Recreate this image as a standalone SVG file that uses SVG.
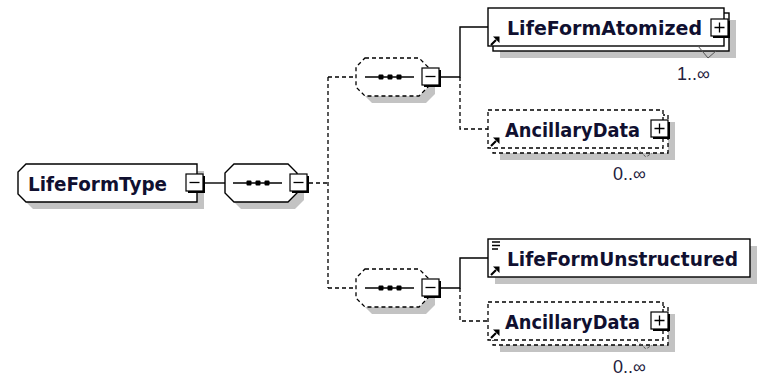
<svg xmlns="http://www.w3.org/2000/svg" width="763" height="378" viewBox="0 0 763 378">
<style>
.bg{fill:#ffffff}
.shadow{fill:#c3c3c3;stroke:none}
.solid{fill:#ffffff;stroke:#000000;stroke-width:1.4}
.dash{fill:#ffffff;stroke:#000000;stroke-width:1.3;stroke-dasharray:4,3}
.con{fill:none;stroke:#000000;stroke-width:1.4}
.cond{fill:none;stroke:#000000;stroke-width:1.3;stroke-dasharray:4,3}
.name{font-family:"DejaVu Sans","Liberation Sans",sans-serif;font-weight:bold;font-size:20px;fill:#101030}
.mult{font-family:"Liberation Sans","DejaVu Sans",sans-serif;font-size:18px;fill:#24203c}
.btn{fill:#ffffff;stroke:#000000;stroke-width:1.2}
.btnsh{fill:#000000}
.sign{stroke:#000000;stroke-width:1.3;fill:none}
.notch{fill:none;stroke:#555555;stroke-width:1}
</style>
<defs>
<g id="minus">
<rect class="btnsh" x="2" y="2" width="17" height="17"/>
<rect class="btn" x="0" y="0" width="17" height="17"/>
<path class="sign" d="M3.5,8.5 H13.5"/>
</g>
<g id="plus">
<rect class="btnsh" x="2" y="2" width="17" height="17"/>
<rect class="btn" x="0" y="0" width="17" height="17"/>
<path class="sign" d="M3.5,8.5 H13.5 M8.5,3.5 V13.5"/>
</g>
<g id="arrow">
<path d="M1,9 L6,4" stroke="#000" stroke-width="2.2" fill="none"/>
<polygon points="3,0.5 9.5,0.5 9.5,7" fill="#000"/>
</g>
<g id="seqdots">
<path d="M0,0 H49" stroke="#000" stroke-width="1.4"/>
<rect x="13.5" y="-2.5" width="5" height="5" rx="1" fill="#000"/>
<rect x="22.5" y="-2.5" width="5" height="5" rx="1" fill="#000"/>
<rect x="31.5" y="-2.5" width="5" height="5" rx="1" fill="#000"/>
</g>
</defs>
<rect class="bg" x="0" y="0" width="763" height="378"/>

<g id="connectors">
<path class="con" d="M205,183 H225"/>
<path class="cond" d="M309,183 H328 M328,77 V288 M328,77 H356 M328,288 H356"/>
<path class="con" d="M441,77 H460 V27 H488"/>
<path class="cond" d="M460,77 V129 H488"/>
<path class="con" d="M441,288 H460 V258 H488"/>
<path class="cond" d="M460,288 V321 H488"/>
</g>

<g id="LifeFormType">
<polygon class="shadow" points="33,171 204,171 204,209 33,209 25,201 25,179"/>
<polygon class="solid" points="26,164 197,164 197,202 26,202 18,194 18,172"/>
<text class="name" x="28" y="190.5" textLength="139" lengthAdjust="spacingAndGlyphs">LifeFormType</text>
<use href="#minus" x="186" y="174"/>
</g>

<g id="sequence-main">
<polygon class="shadow" points="241,171 295,171 304,180 304,200 295,209 241,209 232,200 232,180"/>
<polygon class="solid" points="234,164 288,164 297,173 297,193 288,202 234,202 225,193 225,173"/>
<use href="#seqdots" x="233" y="183"/>
<use href="#minus" x="290" y="174"/>
</g>

<g id="sequence-atomized">
<polygon class="shadow" points="372,65 426,65 435,74 435,94 426,103 372,103 363,94 363,74"/>
<polygon class="dash" points="365,58 419,58 428,67 428,87 419,96 365,96 356,87 356,67"/>
<use href="#seqdots" x="365" y="77"/>
<use href="#minus" x="422" y="68"/>
</g>

<g id="sequence-unstructured">
<polygon class="shadow" points="372,276 426,276 435,285 435,305 426,314 372,314 363,305 363,285"/>
<polygon class="dash" points="365,269 419,269 428,278 428,298 419,307 365,307 356,298 356,278"/>
<use href="#seqdots" x="365" y="288"/>
<use href="#minus" x="422" y="279"/>
</g>

<g id="LifeFormAtomized">
<rect class="shadow" x="500" y="20" width="236" height="38"/>
<rect class="solid" x="493" y="13" width="236" height="38"/>
<rect class="solid" x="488" y="8" width="236" height="38"/>
<text class="name" x="507" y="34.5" textLength="195" lengthAdjust="spacingAndGlyphs">LifeFormAtomized</text>
<use href="#arrow" x="490" y="36"/>
<use href="#plus" x="711" y="19"/>
<polyline class="notch" points="698,46 708,58 716,51"/>
<text class="mult" x="677" y="80">1..∞</text>
</g>

<g id="AncillaryData-1">
<rect class="shadow" x="500" y="122" width="175" height="38"/>
<rect class="dash" x="493" y="115" width="175" height="38"/>
<rect class="dash" x="488" y="110" width="175" height="38"/>
<text class="name" x="505" y="136.5" textLength="135" lengthAdjust="spacingAndGlyphs">AncillaryData</text>
<use href="#arrow" x="490" y="137"/>
<use href="#plus" x="651" y="120"/>
<polyline class="notch" points="636,148 646,157 652,153" stroke-dasharray="3,2"/>
<text class="mult" x="613" y="180">0..∞</text>
</g>

<g id="LifeFormUnstructured">
<rect class="shadow" x="495" y="246" width="262" height="38"/>
<rect class="solid" x="488" y="239" width="262" height="38"/>
<path d="M492,242 H500 M492,245.5 H500 M492,249 H498" stroke="#000" stroke-width="1.3" fill="none"/>
<text class="name" x="507" y="265.5" textLength="231" lengthAdjust="spacingAndGlyphs">LifeFormUnstructured</text>
<use href="#arrow" x="490" y="266"/>
</g>

<g id="AncillaryData-2">
<rect class="shadow" x="500" y="314" width="175" height="38"/>
<rect class="dash" x="493" y="307" width="175" height="38"/>
<rect class="dash" x="488" y="302" width="175" height="38"/>
<text class="name" x="505" y="328.5" textLength="135" lengthAdjust="spacingAndGlyphs">AncillaryData</text>
<use href="#arrow" x="490" y="329"/>
<use href="#plus" x="651" y="312"/>
<polyline class="notch" points="636,340 646,349 652,345" stroke-dasharray="3,2"/>
<text class="mult" x="613" y="373">0..∞</text>
</g>
</svg>
